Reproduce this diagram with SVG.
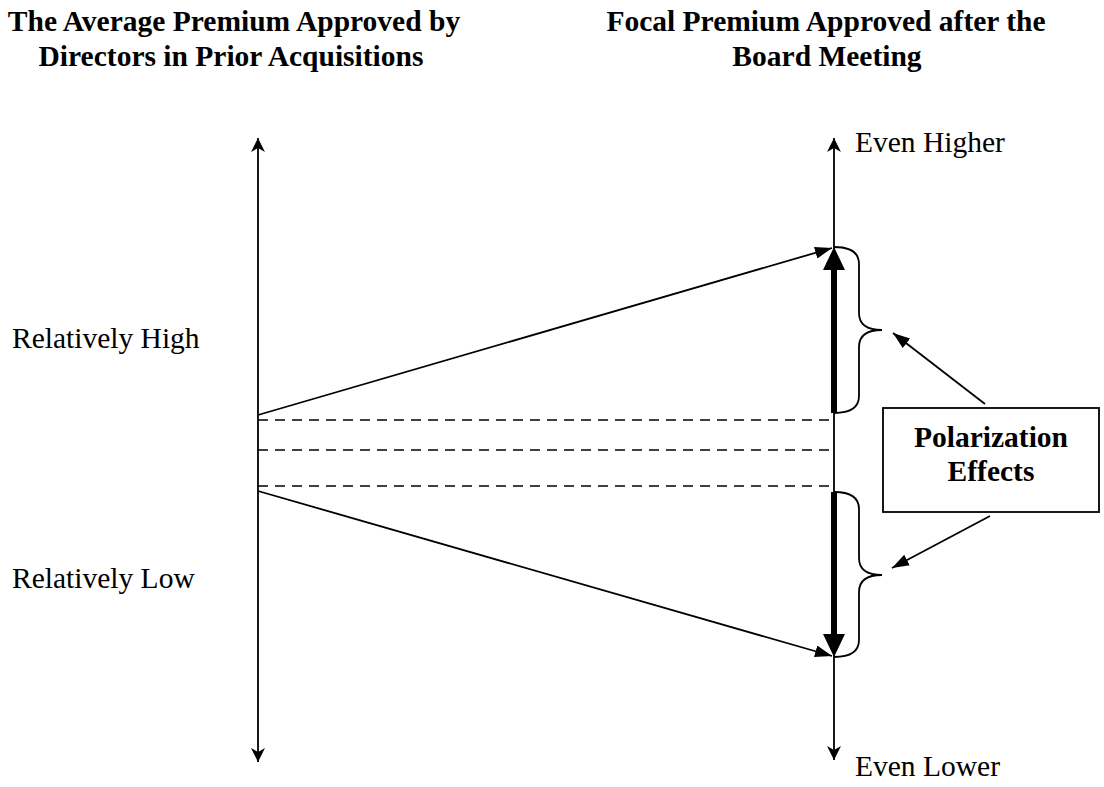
<svg xmlns="http://www.w3.org/2000/svg" width="1104" height="787" viewBox="0 0 1104 787">
<style>
.t{font-family:"Liberation Serif","Times New Roman",serif;font-size:29.5px;fill:#000}
.b{font-weight:bold}
.ln{stroke:#000;stroke-width:1.8;fill:none}
.dash{stroke:#000;stroke-width:1.6;stroke-dasharray:10 7;fill:none}
.thick{stroke:#000;stroke-width:6;fill:none}
</style>
<defs>
<marker id="ah" markerWidth="14" markerHeight="14" refX="14" refY="7" orient="auto" markerUnits="userSpaceOnUse">
<path d="M0,0 L14,7 L0,14 L4,7 Z" fill="#000"/>
</marker>
<marker id="ah2" markerWidth="18" markerHeight="12" refX="17" refY="6" orient="auto" markerUnits="userSpaceOnUse">
<path d="M0,0 L17,6 L0,12 Z" fill="#000"/>
</marker>
</defs>
<rect width="1104" height="787" fill="#fff"/>
<g id="titles">
<text class="t b" x="234" y="31" text-anchor="middle">The Average Premium Approved by</text>
<text class="t b" x="231" y="66" text-anchor="middle">Directors in Prior Acquisitions</text>
<text class="t b" x="826" y="31" text-anchor="middle">Focal Premium Approved after the</text>
<text class="t b" x="827" y="66" text-anchor="middle">Board Meeting</text>
</g>
<g id="labels">
<text class="t" x="12" y="348">Relatively High</text>
<text class="t" x="12" y="588">Relatively Low</text>
<text class="t" x="855" y="152">Even Higher</text>
<text class="t" x="855" y="776">Even Lower</text>
</g>
<g id="connectors">
<line class="ln" x1="258" y1="450" x2="258" y2="138" marker-end="url(#ah)"/>
<line class="ln" x1="258" y1="450" x2="258" y2="762" marker-end="url(#ah)"/>
<line class="ln" x1="834" y1="450" x2="834" y2="138" marker-end="url(#ah)"/>
<line class="ln" x1="834" y1="450" x2="834" y2="760" marker-end="url(#ah)"/>
<line class="dash" x1="258" y1="420" x2="833" y2="420"/>
<line class="dash" x1="258" y1="450" x2="833" y2="450"/>
<line class="dash" x1="258" y1="486" x2="833" y2="486"/>
<line class="ln" x1="258" y1="415" x2="832" y2="248" marker-end="url(#ah2)"/>
<line class="ln" x1="258" y1="491" x2="832" y2="656" marker-end="url(#ah2)"/>
<line class="thick" x1="834" y1="413" x2="834" y2="268"/>
<path d="M823,270 L834,247 L845,270 Z" fill="#000"/>
<line class="thick" x1="834" y1="492" x2="834" y2="636"/>
<path d="M823,634 L834,657 L845,634 Z" fill="#000"/>
<path class="ln" d="M834,247 Q859,247 859,264 L859,313 Q859,330 882,330 Q859,330 859,347 L859,396 Q859,413 834,413"/>
<path class="ln" d="M834,492 Q859,492 859,509 L859,558 Q859,575 882,575 Q859,575 859,592 L859,640 Q859,657 834,657"/>
<line class="ln" x1="985" y1="404" x2="893" y2="333" marker-end="url(#ah2)"/>
<line class="ln" x1="990" y1="516" x2="892" y2="568" marker-end="url(#ah2)"/>
</g>
<g id="box">
<rect x="883" y="408" width="216" height="104" fill="#fff" stroke="#000" stroke-width="1.8"/>
<text class="t b" x="991" y="447" text-anchor="middle">Polarization</text>
<text class="t b" x="991" y="481" text-anchor="middle">Effects</text>
</g>
</svg>
